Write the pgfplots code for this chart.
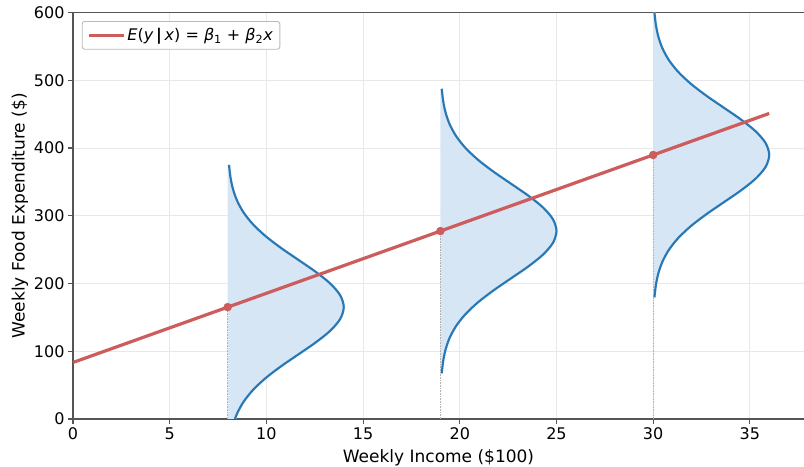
\documentclass[border=0pt]{standalone}
\usepackage{fontspec}
\setmainfont{DejaVu Sans}
\usepackage{pgfplots}
\usepackage{pgfplotstable}
\pgfplotsset{compat=1.18}
\usetikzlibrary{calc}

\definecolor{fitred}{RGB}{205,92,92}
\definecolor{curveblue}{RGB}{40,120,181}
\definecolor{fillblue}{RGB}{214,230,245}
\definecolor{spine}{RGB}{85,85,85}
\definecolor{gridgray}{RGB}{232,232,232}

% conditional densities of y at x = 8, 19, 30 (sideways normal curves, sd 70)
\pgfplotstableread{
x y
8.067 -44.9
8.137 -27.4
8.264 -9.9
8.477 7.6
8.812 25.1
9.298 42.6
9.948 60.1
10.747 77.6
11.639 95.1
12.529 112.6
13.295 130.1
13.815 147.6
14.000 165.1
13.815 182.6
13.295 200.1
12.529 217.6
11.639 235.1
10.747 252.6
9.948 270.1
9.298 287.6
8.812 305.1
8.477 322.6
8.264 340.1
8.137 357.6
8.067 375.1
}\curveA

\pgfplotstableread{
x y
19.067 67.4
19.137 84.9
19.264 102.4
19.477 119.9
19.812 137.4
20.298 154.9
20.948 172.4
21.747 189.9
22.639 207.4
23.529 224.9
24.295 242.4
24.815 259.9
25.000 277.4
24.815 294.9
24.295 312.4
23.529 329.9
22.639 347.4
21.747 364.9
20.948 382.4
20.298 399.9
19.812 417.4
19.477 434.9
19.264 452.4
19.137 469.9
19.067 487.4
}\curveB

\pgfplotstableread{
x y
30.067 179.7
30.137 197.2
30.264 214.7
30.477 232.2
30.812 249.7
31.298 267.2
31.948 284.7
32.747 302.2
33.639 319.7
34.529 337.2
35.295 354.7
35.815 372.2
36.000 389.7
35.815 407.2
35.295 424.7
34.529 442.2
33.639 459.7
32.747 477.2
31.948 494.7
31.298 512.2
30.812 529.7
30.477 547.2
30.264 564.7
30.137 582.2
30.067 599.7
}\curveC

\begin{document}
\begin{tikzpicture}
\begin{axis}[
    width=731pt, height=406.5pt, scale only axis,
    xmin=0, xmax=37.8, ymin=0, ymax=600,
    xtick={0,5,10,15,20,25,30,35},
    ytick={0,100,200,300,400,500,600},
    axis x line=box, axis y line=left,
    axis line style={-, spine, line width=1.3pt},
    xtick pos=bottom, ytick pos=left,
    tick align=outside, major tick length=5pt,
    tick style={spine, line width=1.1pt},
    grid=major, grid style={gridgray, line width=0.9pt},
    ticklabel style={font=\fontsize{16}{19}\selectfont},
    /pgf/number format/assume math mode=true,
    xlabel={Weekly Income (\$100)},
    ylabel={Weekly Food Expenditure (\$)},
    label style={font=\fontsize{17}{20}\selectfont},
    xlabel style={yshift=-3pt},
    ylabel style={yshift=-1pt},
    legend style={at={(0.012,0.979)}, anchor=north west, draw=gridgray!80!black,
        rounded corners=2.5pt, line width=0.9pt, inner xsep=5pt, inner ysep=5pt,
        font=\fontsize{16}{19}\selectfont},
    legend cell align=left,
    legend image code/.code={\draw[#1, line width=3.2pt] (0pt,0pt) -- (35pt,0pt);},
]
% shaded densities
\addplot[fill=fillblue, draw=fillblue, line width=2.6pt, smooth, forget plot] table {\curveA} -- cycle;
\addplot[fill=fillblue, draw=fillblue, line width=2.6pt, smooth, forget plot] table {\curveB} -- cycle;
\addplot[fill=fillblue, draw=fillblue, line width=2.6pt, smooth, forget plot] table {\curveC} -- cycle;
% dotted drop lines
\addplot[gray!60, densely dotted, line width=0.6pt, forget plot] coordinates {(8,0) (8,165.1)};
\addplot[gray!60, densely dotted, line width=0.6pt, forget plot] coordinates {(19,0) (19,277.4)};
\addplot[gray!60, densely dotted, line width=0.6pt, forget plot] coordinates {(30,0) (30,389.7)};
% density outlines
\addplot[curveblue, line width=2.1pt, smooth, forget plot] table {\curveA};
\addplot[curveblue, line width=2.1pt, smooth, forget plot] table {\curveB};
\addplot[curveblue, line width=2.1pt, smooth, forget plot] table {\curveC};
% regression line
\addplot[fitred, line width=3.2pt] coordinates {(0,83.42) (36,450.98)};
\addlegendentry{\textit{E}(\textit{y}\,\textbf{|}\,\textit{x}) = \textit{β}\textsubscript{1} + \textit{β}\textsubscript{2}\textit{x}}
\addplot[only marks, mark=*, mark size=4pt, fitred, forget plot] coordinates {(8,165.1) (19,277.4) (30,389.7)};
\end{axis}
\pgfresetboundingbox
\path ($(current axis.south west)+(-73pt,-48pt)$) rectangle ($(current axis.north east)+(0pt,12.5pt)$);
\end{tikzpicture}
\end{document}
